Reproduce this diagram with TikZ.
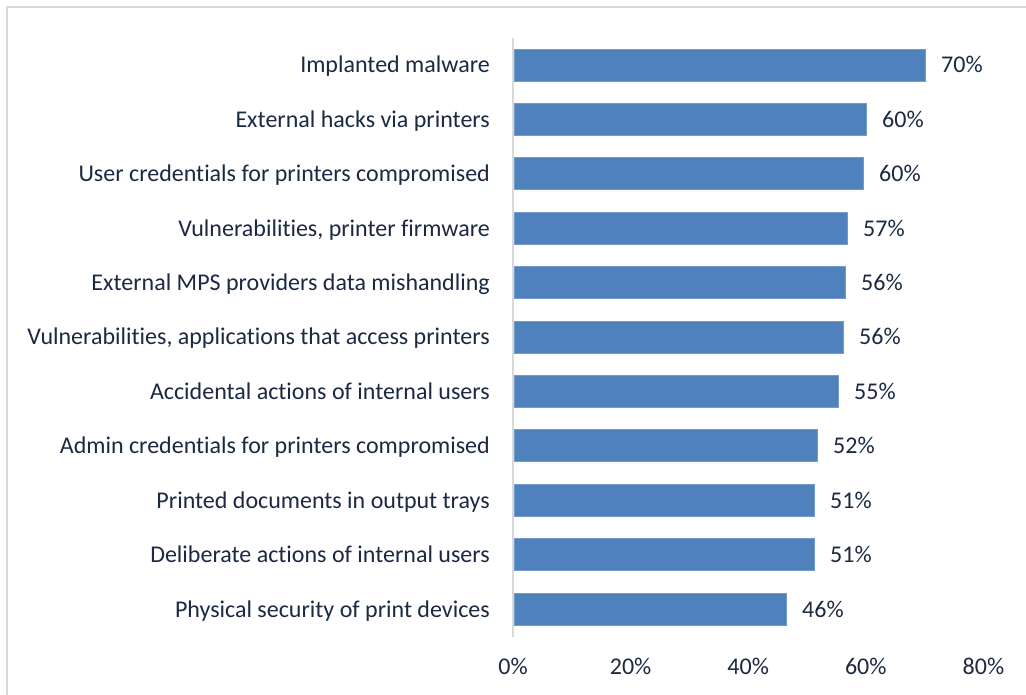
\documentclass[tikz,border=0pt]{standalone}
\usepackage{fontspec}
\setmainfont{Carlito}[Ligatures={NoCommon}]
\usetikzlibrary{fit}
\definecolor{barblue}{HTML}{4F81BD}
\definecolor{txt}{HTML}{1B2A42}
\definecolor{frame}{HTML}{D9D9D9}
\definecolor{axisgray}{HTML}{D9D9D9}
\begin{document}
\begin{tikzpicture}[x=1pt,y=-1pt,
  cat/.style={anchor=base east,text=txt,font=\fontsize{24}{28}\selectfont,inner sep=0pt},
  val/.style={anchor=base west,text=txt,font=\fontsize{24}{28}\selectfont,inner sep=0pt},
  tick/.style={anchor=base,text=txt,font=\fontsize{24}{28}\selectfont,inner sep=0pt},
  bar/.style={fill=barblue,draw=barblue!80!white,line width=0.8pt}]
\useasboundingbox (0,0) rectangle (1026,695);
\fill[white] (0,0) rectangle (1026,695);
\draw[frame,line width=1.5pt] (7,695) -- (7,7) -- (1026,7);
\coordinate (axtop) at (513,38);
\coordinate (axbot) at (513,637);
\draw[axisgray,line width=1.2pt] (axtop) -- (axbot);
\foreach \i/\label/\xe/\v in {
 0/Implanted malware/925/70\%,
 1/External hacks via printers/866/60\%,
 2/User credentials for printers compromised/863/60\%,
 3/{Vulnerabilities, printer firmware}/847/57\%,
 4/External MPS providers data mishandling/845/56\%,
 5/{Vulnerabilities, applications that access printers}/843/56\%,
 6/Accidental actions of internal users/838/55\%,
 7/Admin credentials for printers compromised/817/52\%,
 8/Printed documents in output trays/814/51\%,
 9/Deliberate actions of internal users/814/51\%,
 10/Physical security of print devices/786/46\%}{
  \pgfmathsetmacro{\yc}{65+54.4*\i}
  \pgfmathsetmacro{\ya}{\yc-16}
  \pgfmathsetmacro{\yb}{\yc+16}
  \node[bar,inner sep=0pt,fit={(514,\ya)(\xe,\yb)}] (b\i) {};
  \node[cat] (c\i) at (490,\yc+8) {\label};
  \node[val] (v\i) at (\xe+16,\yc+8) {\v};
}
\foreach \p/\n in {0/0,20/1,40/2,60/3,80/4}{
  \node[tick] (t\n) at (513+5.88*\p,674) {\p\%};
}
\end{tikzpicture}
\end{document}
